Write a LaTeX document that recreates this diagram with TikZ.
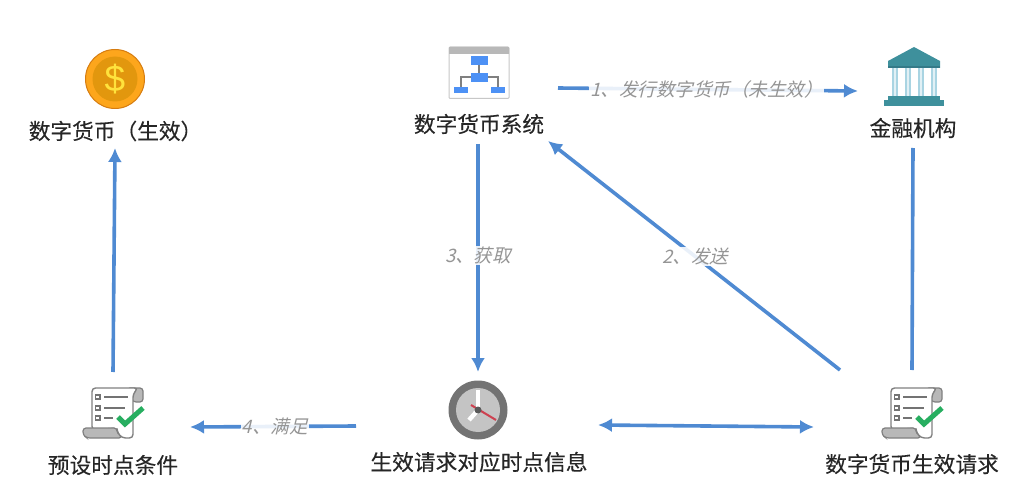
\documentclass[tikz,border=0pt]{standalone}
\usepackage{fontspec}
\usetikzlibrary{arrows.meta}
\newfontfamily\cjk[FakeBold=0.25]{Noto Sans CJK SC}
\newfontfamily\cjkslant[FakeSlant=0.25]{Noto Sans CJK SC}
\definecolor{flow}{HTML}{4F8AD2}
\definecolor{ink}{HTML}{262626}
\definecolor{notegray}{HTML}{959595}
\definecolor{coinrim}{HTML}{FDA61C}
\definecolor{coinedge}{HTML}{D67C10}
\definecolor{coinface}{HTML}{E2970E}
\definecolor{coinsign}{HTML}{FFE23C}
\definecolor{chartblue}{HTML}{4D91F5}
\definecolor{bankteal}{HTML}{3E909C}
\definecolor{bankdark}{HTML}{347A88}
\definecolor{bankcol}{HTML}{A9D4E2}
\definecolor{banklight}{HTML}{E1F0F5}
\definecolor{clockred}{HTML}{CD4150}
\definecolor{checkgreen}{HTML}{27AE60}
\tikzset{
  title/.style={font=\cjk\fontsize{21.7}{24}\selectfont,text=ink,inner sep=0pt},
  note/.style={font=\cjkslant\fontsize{18.5}{22}\selectfont,text=notegray,inner sep=1pt,fill=white,fill opacity=.88,text opacity=1},
  flowline/.style={draw=flow,line width=3.6pt},
  flowarrow/.style={flowline,-{Latex[length=14pt,width=14pt]}},
  flowboth/.style={flowline,{Latex[length=14pt,width=14pt]}-{Latex[length=14pt,width=14pt]}},
  pics/scroll/.style={code={
    % far curl
    \filldraw[fill=black!28,draw=black!50,line width=1.2pt,rounded corners=3pt] (14,-26) -- (30,-26) -- (30,-12) -- (20,-12) -- cycle;
    % page
    \filldraw[fill=white,draw=black!50,line width=1.4pt,rounded corners=3.5pt] (-21,16) -- (-21,-26) -- (25,-26) -- (20,-20) -- (20,24) -- (9,24) -- (4,18) -- (4,14) -- cycle;
    % near roll
    \filldraw[fill=black!28,draw=black!50,line width=1.2pt,rounded corners=3pt] (-30,14) -- (4,14) -- (4,18) -- (9,24) -- (-26,24) -- (-30,21) -- cycle;
    \foreach \y/\xe in {-17/15,-6/12,4/0}{
      \filldraw[fill=white,draw=black!55,line width=1.2pt] (-17.5,\y-2) rectangle (-13,\y+2);
      \draw[black!55,line width=1.6pt] (-9,\y) -- (\xe,\y);
    }
    \draw[checkgreen,line width=5pt] (5,3) -- (12,10) -- (30,-6);
  }}
}
\begin{document}
\begin{tikzpicture}[x=1pt,y=-1pt]
\useasboundingbox (0,0) rectangle (1029,500);
% coin
\begin{scope}[shift={(115,79)}]
  \filldraw[fill=coinrim,draw=coinedge,line width=1pt] (0,0) circle (29.5);
  \fill[coinface] (0,0) circle (22.5);
  \node[inner sep=0pt,font=\fontspec{Liberation Sans}\fontsize{37}{37}\selectfont,text=coinsign] (dollar) at (0,0) {\$};
\end{scope}
% org chart window
\begin{scope}[shift={(479,73)}]
  \filldraw[fill=white,draw=black!22,line width=1pt,rounded corners=1pt] (-30,-26) rectangle (30,25.5);
  \fill[black!28] (-30,-26) rectangle (30,-19);
  \draw[black!50,line width=1.4pt] (0,-8) -- (0,4) (-18,15) -- (-18,4) -- (19,4) -- (19,15);
  \fill[chartblue] (-8.5,-17) rectangle (8.5,-8);
  \fill[chartblue] (-8.5,0) rectangle (8.5,9);
  \fill[chartblue] (-25,14) rectangle (-11,20);
  \fill[chartblue] (12,14) rectangle (26,20);
\end{scope}
% bank
\begin{scope}[shift={(914,76)}]
  \foreach \x in {-19,-6,7,20}{
    \fill[bankcol] (\x-3,-9) rectangle (\x+3,21);
    \fill[banklight] (\x-1.2,-9) rectangle (\x+1.2,21);
  }
  \fill[bankteal] (0,-29) -- (26,-15) -- (26,-8) -- (-26,-8) -- (-26,-15) -- cycle;
  \fill[bankdark] (-26,-10) rectangle (26,-8);
  \fill[bankteal] (-26,20) rectangle (26,24);
  \fill[bankteal] (-30,24) rectangle (30,30);
\end{scope}
% clock
\begin{scope}[shift={(478,410)}]
  \fill[black!55] (0,0) circle (29.5);
  \fill[black!23] (0,0) circle (22);
  \draw[white,line width=4.4pt] (0,0) -- (0,-20);
  \draw[white,line width=4.4pt] (0,0) -- (-9,10);
  \draw[clockred,line width=2pt] (-7,-5) -- (18,10);
  \fill[black!65] (0,0) circle (3.5);
\end{scope}
% documents
\pic at (113,414) {scroll};
\pic at (912,414) {scroll};
% titles
\node[title] (coin) at (115.5,131) {数字货币（生效）};
\node[title] (sys) at (479,124) {数字货币系统};
\node[title] (bank) at (913,128) {金融机构};
\node[title] (cond) at (113,465) {预设时点条件};
\node[title] (info) at (479,462) {生效请求对应时点信息};
\node[title] (req) at (912,464) {数字货币生效请求};
% connector ends
\coordinate (a1) at (558,88);
\coordinate (a2) at (858,91);
\coordinate (b1) at (113,372);
\coordinate (b2) at (115,148);
\coordinate (c1) at (478,144);
\coordinate (c2) at (478,372);
\coordinate (d1) at (913,148);
\coordinate (d2) at (912,370);
\coordinate (e1) at (840,370);
\coordinate (e2) at (548,141);
\coordinate (f1) at (356,426);
\coordinate (f2) at (190,427);
\coordinate (g1) at (598,425);
\coordinate (g2) at (814,427);
\draw[flowarrow] (a1) -- (a2) node[note,pos=.495] (n1) {1、发行数字货币（未生效）};
\draw[flowarrow] (b1) -- (b2);
\draw[flowarrow] (c1) -- (c2) node[note,pos=.49] (n3) {3、获取};
\draw[flowline] (d1) -- (d2);
\draw[flowarrow] (e1) -- (e2) node[note,pos=.495] (n2) {2、发送};
\draw[flowarrow] (f1) -- (f2) node[note,pos=.49] (n4) {4、满足};
\draw[flowboth] (g1) -- (g2);
\end{tikzpicture}
\end{document}
